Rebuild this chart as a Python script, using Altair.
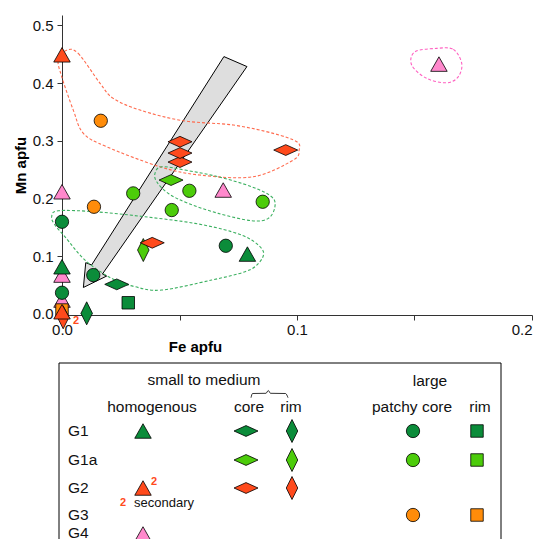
import altair as alt
import pandas as pd

# ---------------- data ----------------
groups = ["G1", "G1a", "G2", "G3", "G4"]
group_colors = ["#0b8c3a", "#4ccc0a", "#ff4a1c", "#ff8c0a", "#ff88cc"]
types = ["homog", "core", "rim", "patchy", "rimsq"]
type_shapes = ["M0,-0.88L1,0.88L-1,0.88Z", "M-1,0L0,-0.45L1,0L0,0.45Z",
               "M-0.5,0L0,-1L0.5,0L0,1Z", "circle", "square"]
type_sizes = [272, 576, 529, 177, 156]

fe = [0.1604, 0.0686, 0.0, 0.0, 0.0,
      0.0165, 0.0136, 0.0,
      0.0005,
      0.0303, 0.0542, 0.0467, 0.0854, 0.0464, 0.0346,
      0.0, 0.0697, 0.0133, 0.0, 0.0789, 0.0, 0.0233, 0.0282, 0.0105,
      0.0, 0.0, 0.0502, 0.0502, 0.0502, 0.0952, 0.0384]
mn = [0.4329, 0.2146, 0.2116, 0.0672, 0.0239,
      0.3347, 0.1856, 0.0066,
      -0.006,
      0.2088, 0.2133, 0.1799, 0.1943, 0.2319, 0.1106,
      0.1596, 0.1180, 0.0672, 0.0366, 0.1036, 0.0816, 0.0511, 0.0192, 0.0009,
      0.449, 0.0036, 0.2631, 0.2787, 0.2983, 0.2839, 0.1232]
grp = ["G4"] * 5 + ["G3"] * 3 + ["G2"] + ["G1a"] * 6 + ["G1"] * 9 + ["G2"] * 7
typ = ["homog"] * 5 + ["patchy", "patchy", "rimsq"] + ["rim"] + \
      ["patchy"] * 4 + ["core", "rim"] + \
      ["patchy"] * 4 + ["homog", "homog", "core", "rimsq", "rim"] + \
      ["homog", "homog"] + ["core"] * 5

# secondary point (marked "2")
sec_fe = [0.0]
sec_mn = [0.0036]

# arrow outline (data units)
arrow_fe = [0.0689, 0.0787, 0.0172, 0.0190, 0.0091, 0.0101, 0.0126]
arrow_mn = [0.4459, 0.4286, 0.0690, 0.0655, 0.0457, 0.0887, 0.0847]

# dashed envelopes
hull_red_fe = [0.0020, 0.0069, 0.0162, 0.0218, 0.0332, 0.0516, 0.0729, 0.0899, 0.0999, 0.1009,
               0.0984, 0.0814, 0.0587, 0.0417, 0.0190, 0.0091, 0.0048, -0.0001, -0.0016]
hull_red_mn = [0.457, 0.4515, 0.3995, 0.3735, 0.3532, 0.3347, 0.3272, 0.3128, 0.2983, 0.2839,
               0.2666, 0.2376, 0.2406, 0.2549, 0.2896, 0.3128, 0.3532, 0.4109, 0.4399]
hull_g1_fe = [0.0424, 0.0523, 0.0665, 0.0807, 0.0892, 0.0906, 0.0878, 0.0807, 0.0665, 0.0537,
              0.0452, 0.0403, 0.0396]
hull_g1_mn = [0.2549, 0.2492, 0.2376, 0.2203, 0.2029, 0.1856, 0.1655, 0.1614, 0.1742, 0.1915,
              0.2088, 0.2289, 0.2440]
hull_g2_fe = [-0.0016, 0.0140, 0.0353, 0.0566, 0.0722, 0.0807, 0.0857, 0.0836, 0.0779, 0.0637,
              0.0424, 0.0311, 0.0211, 0.0098, 0.0013, -0.0030, -0.0044]
hull_g2_mn = [0.1787, 0.1770, 0.1683, 0.1568, 0.1423, 0.1279, 0.1076, 0.0875, 0.0730, 0.0586,
              0.0412, 0.0470, 0.0615, 0.0932, 0.1336, 0.1539, 0.1683]
hull_pk_fe = [0.1594, 0.1665, 0.1701, 0.1686, 0.1637, 0.1552, 0.1488, 0.1502]
hull_pk_mn = [0.4601, 0.4584, 0.4341, 0.4109, 0.4005, 0.4081, 0.4312, 0.4542]
hull_names = ["red", "green1", "green2", "pink"]
hull_colors = ["#ff6a4d", "#3cb060", "#3cb060", "#ff5fc0"]

# legend content (legend box units)
leg_sym_x = [81, 184, 230, 351, 415, 184, 230, 351, 415, 81, 184, 230, 351, 415, 81]
leg_sym_y = [68, 68, 68, 68, 68, 97, 97, 97, 97, 125, 125, 125, 152, 152, 171]
leg_sym_grp = ["G1"] * 5 + ["G1a"] * 4 + ["G2"] * 3 + ["G3"] * 2 + ["G4"]
leg_sym_typ = ["homog", "core", "rim", "patchy", "rimsq", "core", "rim", "patchy", "rimsq",
               "homog", "core", "rim", "patchy", "rimsq", "homog"]
leg_head_txt = ["small to medium", "large", "homogenous", "core", "rim", "patchy core", "rim"]
leg_head_x = [142, 368, 90, 187, 229, 350, 418]
leg_head_y = [17, 18, 44, 44, 44, 44, 44]
leg_row_txt = ["G1", "G1a", "G2", "G3", "G4"]
leg_row_x = [6, 6, 6, 6, 6]
leg_row_y = [68, 97, 125, 152, 170]
leg_sec_x = [92, 61]
leg_sec_y = [119, 140]
brace_x = [189, 190.5, 204, 206.3, 208.5, 223.5, 226]
brace_y = [34.7, 30.5, 30.3, 27.5, 30.3, 30.5, 34.7]

FONT = "Liberation Sans"

# ---------------- tables ----------------
pts = pd.DataFrame({"Fe": fe, "Mn": mn, "group": grp, "type": typ})
pts["ord"] = list(range(len(pts)))
sec = pd.DataFrame({"Fe": sec_fe, "Mn": sec_mn})
arrow = pd.DataFrame({"Fe": arrow_fe, "Mn": arrow_mn, "ord": list(range(len(arrow_fe)))})

hull_rows = []
for name, hx, hy in [("red", hull_red_fe, hull_red_mn), ("green1", hull_g1_fe, hull_g1_mn),
                     ("green2", hull_g2_fe, hull_g2_mn), ("pink", hull_pk_fe, hull_pk_mn)]:
    for i, (a, b) in enumerate(zip(hx, hy)):
        hull_rows.append({"hull": name, "Fe": a, "Mn": b, "ord": i})
hulls = pd.DataFrame(hull_rows)

fill_scale = alt.Scale(domain=groups, range=group_colors)
shape_scale = alt.Scale(domain=types, range=type_shapes)
size_scale = alt.Scale(type="ordinal", domain=types, range=type_sizes)

PW = 470
xscale = alt.Scale(domain=[0, 0.2], nice=False, zero=False)
yscale = alt.Scale(domain=[-0.002, 0.518], nice=False, zero=False)
lab_expr = "abs(datum.value*10 - round(datum.value*10)) < 0.001 ? format(datum.value, '.1f') : ''"

xaxis = alt.Axis(title="Fe apfu", values=[0, 0.05, 0.1, 0.15, 0.2], labelExpr=lab_expr,
                 grid=False, domainColor="#333", tickColor="#333", tickSize=5,
                 labelFontSize=15, labelColor="#111", labelPadding=2, labelFlush=False,
                 labelAlign={"condition": {"test": "datum.value > 0.19", "value": "right"},
                             "value": "center"},
                 titleFontSize=15, titleFontWeight="bold", titleX=133, titleAlign="center",
                 titlePadding=2, labelFont=FONT, titleFont=FONT)
yaxis = alt.Axis(title="Mn apfu", values=[0, 0.05, 0.1, 0.15, 0.2, 0.25, 0.3, 0.35, 0.4, 0.45, 0.5],
                 labelExpr=lab_expr, grid=False, domainColor="#333", tickColor="#333", tickSize=5,
                 labelFontSize=15, labelColor="#111", labelPadding=4, labelFlush=False,
                 titleFontSize=15, titleFontWeight="bold", titlePadding=4,
                 labelFont=FONT, titleFont=FONT)

X = alt.X("Fe:Q", scale=xscale, axis=xaxis)
Y = alt.Y("Mn:Q", scale=yscale, axis=yaxis)

arrow_layer = alt.Chart(arrow).mark_line(
    interpolate="linear-closed", fill="#dedede", stroke="black", strokeWidth=1
).encode(x=X, y=Y, order="ord:Q")

hull_layer = alt.Chart(hulls).mark_line(
    interpolate="cardinal-closed", strokeDash=[3, 2], strokeWidth=1.1
).encode(
    x="Fe:Q", y="Mn:Q",
    stroke=alt.Stroke("hull:N", scale=alt.Scale(domain=hull_names, range=hull_colors), legend=None),
    detail="hull:N", order="ord:Q",
)

point_layer = alt.Chart(pts).mark_point(
    filled=True, stroke="black", strokeWidth=0.8, opacity=1
).encode(
    x="Fe:Q", y="Mn:Q",
    fill=alt.Fill("group:N", scale=fill_scale, legend=None),
    shape=alt.Shape("type:N", scale=shape_scale, legend=None),
    size=alt.Size("type:N", scale=size_scale, legend=None),
    order="ord:Q",
)

sec_layer = alt.Chart(sec).mark_text(
    text="2", color="#ff4a1c", fontWeight="bold", fontSize=11, dx=14, dy=9, font=FONT
).encode(x="Fe:Q", y="Mn:Q")

top = alt.layer(arrow_layer, hull_layer, point_layer, sec_layer).properties(
    width=PW, height=300
)

# ---------------- legend panel ----------------
LW, LH = 439, 176
lx = alt.Scale(domain=[0, LW], nice=False, zero=False)
ly = alt.Scale(domain=[0, LH], nice=False, zero=False, reverse=True)
LX = alt.X("x:Q", scale=lx, axis=None)
LY = alt.Y("y:Q", scale=ly, axis=None)

leg_sym = pd.DataFrame({"x": leg_sym_x, "y": leg_sym_y, "group": leg_sym_grp, "type": leg_sym_typ})
leg_head = pd.DataFrame({"x": leg_head_x, "y": leg_head_y, "t": leg_head_txt})
leg_row = pd.DataFrame({"x": leg_row_x, "y": leg_row_y, "t": leg_row_txt})
leg_sec = pd.DataFrame({"x": leg_sec_x, "y": leg_sec_y})
leg_secw = pd.DataFrame({"x": [72], "y": [140], "t": ["secondary"]})
brace = pd.DataFrame({"x": brace_x, "y": brace_y, "ord": list(range(len(brace_x)))})
frame = pd.DataFrame({"x": [-3, -3, LW], "y": [0, 0, 0], "x2": [LW, -3, LW], "y2": [0, LH, LH]})

l_box = alt.Chart(frame).mark_rule(color="black", strokeWidth=1).encode(
    x=LX, y=LY, x2="x2:Q", y2="y2:Q")
l_sym = alt.Chart(leg_sym).mark_point(filled=True, stroke="black", strokeWidth=0.8, opacity=1,
                                      clip=True).encode(
    x="x:Q", y="y:Q",
    fill=alt.Fill("group:N", scale=fill_scale, legend=None),
    shape=alt.Shape("type:N", scale=shape_scale, legend=None),
    size=alt.Size("type:N", scale=size_scale, legend=None),
)
l_head = alt.Chart(leg_head).mark_text(fontSize=15.5, font=FONT, color="#111", align="center",
                                       baseline="middle").encode(x="x:Q", y="y:Q", text="t:N")
l_row = alt.Chart(leg_row).mark_text(fontSize=15.5, font=FONT, color="#111", align="left",
                                     baseline="middle", clip=True).encode(x="x:Q", y="y:Q", text="t:N")
l_secw = alt.Chart(leg_secw).mark_text(fontSize=13, font=FONT, color="#111", align="left",
                                       baseline="middle").encode(x="x:Q", y="y:Q", text="t:N")
l_sec = alt.Chart(leg_sec).mark_text(text="2", fontSize=11, fontWeight="bold", font=FONT,
                                     color="#ff4a1c", baseline="middle").encode(x="x:Q", y="y:Q")
l_brace = alt.Chart(brace).mark_line(color="black", strokeWidth=0.8, interpolate="monotone").encode(
    x="x:Q", y="y:Q", order="ord:Q")

legend = alt.layer(l_box, l_brace, l_sym, l_head, l_row, l_secw, l_sec).properties(
    width=LW, height=LH
)

chart = alt.vconcat(top, legend, spacing=8).properties(
    padding={"left": 5, "top": 7, "right": 0, "bottom": 0}
).configure(font=FONT).configure_view(stroke=None)

chart.save("out.html", embed_options={"renderer": "svg", "actions": False})
